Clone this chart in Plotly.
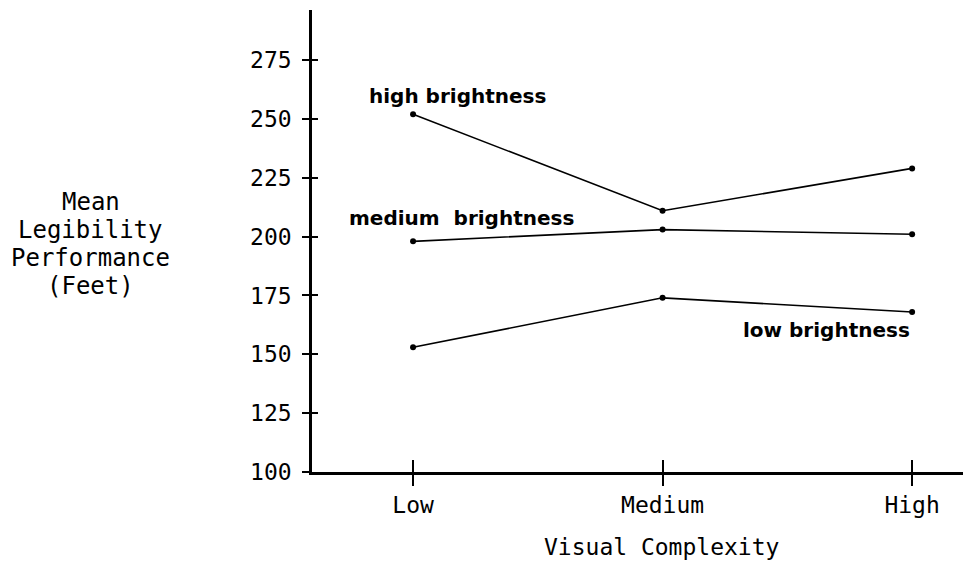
import plotly.graph_objects as go

categories = ["Low", "Medium", "High"]
high_brightness = [252, 211, 229]
medium_brightness = [198, 203, 201]
low_brightness = [153, 174, 168]
y_ticks = [100, 125, 150, 175, 200, 225, 250, 275]
y_title_lines = ["Mean", "Legibility", "Performance", "(Feet)"]

xpos = list(range(len(categories)))
mono = "DejaVu Sans Mono"
sans = "DejaVu Sans"

fig = go.Figure()
for vals in (high_brightness, medium_brightness, low_brightness):
    fig.add_trace(go.Scatter(
        x=xpos, y=vals, mode="lines+markers",
        line=dict(color="black", width=1.6),
        marker=dict(color="black", size=6),
        showlegend=False, hoverinfo="skip"))

XR = [-0.405, 2.236]
YR = [100, 296.3]

fig.update_layout(
    width=963, height=568,
    margin=dict(l=304, r=0, t=2, b=104),
    paper_bgcolor="white", plot_bgcolor="white",
    xaxis=dict(range=XR, tickvals=xpos, ticktext=categories,
               showgrid=False, zeroline=False, showline=True,
               linecolor="black", linewidth=2.5,
               ticks="outside", ticklen=11, tickwidth=1.5, tickcolor="black",
               tickfont=dict(family=mono, size=23, color="black")),
    yaxis=dict(range=YR, tickvals=y_ticks,
               showgrid=False, zeroline=False, showline=True,
               linecolor="black", linewidth=2.5,
               ticks="outside", ticklen=7, tickwidth=1.5, tickcolor="black",
               ticklabelstandoff=6,
               tickfont=dict(family=mono, size=23, color="black")),
    xaxis2=dict(range=XR, tickvals=xpos, overlaying="x", anchor="y",
                showticklabels=False, showgrid=False, zeroline=False,
                ticks="inside", ticklen=12, tickwidth=1.5, tickcolor="black"),
    yaxis2=dict(range=YR, tickvals=y_ticks, overlaying="y", anchor="x",
                showticklabels=False, showgrid=False, zeroline=False,
                ticks="inside", ticklen=6, tickwidth=1.5, tickcolor="black"),
)
fig.add_trace(go.Scatter(x=[], y=[], xaxis="x2", yaxis="y2", showlegend=False))

label_font = dict(family=sans, size=20, color="black")
fig.add_annotation(x=-0.185, y=259.7, text="<b>high brightness</b>", showarrow=False,
                   xanchor="left", yanchor="middle", font=label_font)
fig.add_annotation(x=-0.265, y=208, text="<b>medium&nbsp;&nbsp;brightness</b>", showarrow=False,
                   xanchor="left", yanchor="middle", font=label_font)
fig.add_annotation(x=2.0, y=160.5, text="<b>low brightness</b>", showarrow=False,
                   xanchor="right", yanchor="middle", font=label_font)

# y-axis title, one annotation per line for tighter spacing
title_top = 0.585
for i, line in enumerate(y_title_lines):
    fig.add_annotation(xref="paper", yref="paper", x=-0.3354, y=title_top - i * 0.0606,
                       text=line, showarrow=False, xanchor="center", yanchor="middle",
                       font=dict(family=mono, size=24, color="black"))

fig.add_annotation(xref="paper", yref="paper", x=0.53, y=-0.162,
                   text="Visual Complexity", showarrow=False,
                   xanchor="center", yanchor="middle",
                   font=dict(family=mono, size=23, color="black"))

fig.write_html("out.html")
